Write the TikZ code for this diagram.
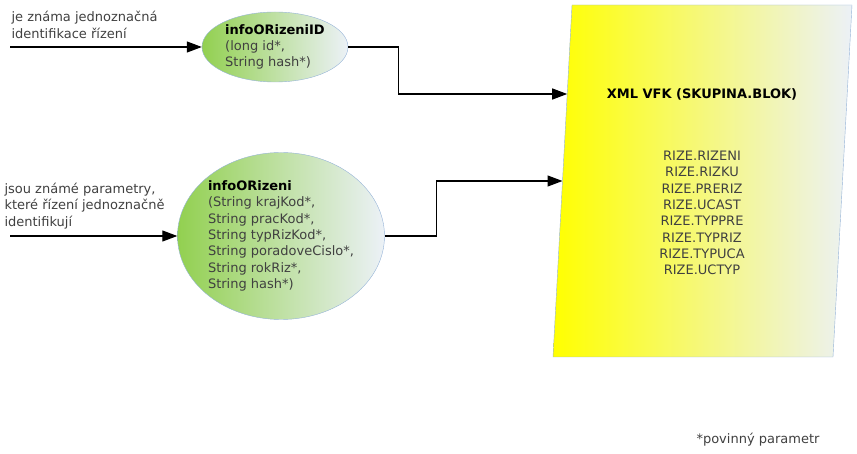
\documentclass[tikz,border=0pt]{standalone}
\usepackage{fontspec}
\setmainfont{DejaVu Sans}
\usetikzlibrary{
  shapes.geometric,
  arrows.meta
}
\definecolor{rizgreen}{RGB}{146,208,80}
\definecolor{rizpale}{RGB}{236,241,247}
\definecolor{rizedge}{RGB}{149,179,215}
\definecolor{riztext}{RGB}{64,64,64}
\tikzset{
  rizeni/.style={
    ellipse,
    draw=rizedge,
    left color=rizgreen,
    right color=rizpale,
    inner sep=0pt,
    align=left,
    text=riztext
  },
  conn/.style={
    draw,
    line width=1.2pt,
    -{Triangle[length=15pt,width=11pt]}
  },
  popis/.style={
    anchor=west,
    align=left,
    text=riztext
  }
}

\begin{document}
\begin{tikzpicture}[
    x=1pt, y=-1pt,
    font=\fontsize{13}{16.3}\selectfont
    ]
  \useasboundingbox (0,0) rectangle (857,454);
  \shade[left color=yellow, right color=rizpale, draw=rizedge] (572,5) -- (852,5) -- (833,357) -- (553,357) -- cycle;
  \node[font=\fontsize{13}{16.3}\selectfont\bfseries] (vfktitle) at (702,94) {XML VFK (SKUPINA.BLOK)};
  \node[align=center, text=riztext] (vfklist) at (702,213) {RIZE.RIZENI\\RIZE.RIZKU\\RIZE.PRERIZ\\RIZE.UCAST\\RIZE.TYPPRE\\RIZE.TYPRIZ\\RIZE.TYPUCA\\RIZE.UCTYP};
  \coordinate (vfkin1) at (567.2,94);
  \coordinate (vfkin2) at (562.5,181);

  \node[rizeni, minimum width=146pt, minimum height=70pt] (rizid) at (275,47)
    {\textcolor{black}{\bfseries infoORizeniID}\\(long id*,\\String hash*)};
  \node[rizeni, minimum width=207pt, minimum height=167pt] (rizpar) at (281,236)
    {\textcolor{black}{\bfseries infoORizeni}\\(String krajKod*,\\String pracKod*,\\String typRizKod*,\\String poradoveCislo*,\\String rokRiz*,\\String hash*)};

  \node[popis] (popisid) at (8,25) {je známa jednoznačná\\identifikace řízení};
  \node[popis] (popispar) at (1,206) {jsou známé parametry,\\které řízení jednoznačně\\identifikují};
  \node[text=riztext] (povinny) at (758,440) {*povinný parametr};

  \coordinate (start1) at (10,47);
  \coordinate (start2) at (10,236);
  \draw[conn] (start1) -- (rizid.west);
  \draw[conn] (start2) -- (rizpar.west);
  \draw[conn] (rizid.east) -- ++(50,0) |- (vfkin1);
  \draw[conn] (rizpar.east) -- ++(52,0) |- (vfkin2);
\end{tikzpicture}
\end{document}
